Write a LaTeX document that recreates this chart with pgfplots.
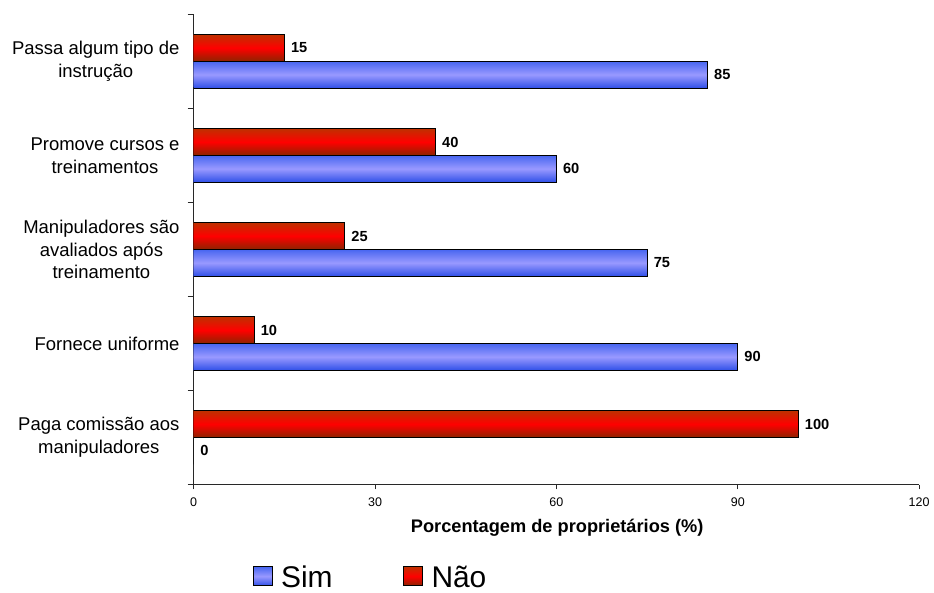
\documentclass[border=0pt]{standalone}
\usepackage{fontspec}
\setmainfont{Liberation Sans}
\usepackage{pgfplots}
\pgfplotsset{compat=1.18}

% bar shading colours
\definecolor{bluetop}{RGB}{72,102,240}
\definecolor{bluemid}{RGB}{153,153,255}
\definecolor{bluebot}{RGB}{48,80,232}
\definecolor{redtop}{RGB}{192,48,0}
\definecolor{redmid}{RGB}{255,0,0}
\definecolor{redbot}{RGB}{140,36,0}
\definecolor{axisgray}{RGB}{40,40,40}

% square legend swatch and the two bar styles (each bar is its own plot,
% so that the shading runs across every single bar)
\pgfplotsset{
  boxlegend/.style={legend image code/.code={%
    \draw[##1, line width=0.6pt] (0pt,-6pt) rectangle (14.25pt,8.25pt);}},
  simbar/.style={draw=black, line width=0.6pt, bar shift=-0.142,
    top color=bluetop, bottom color=bluebot, middle color=bluemid, boxlegend},
  naobar/.style={draw=black, line width=0.6pt, bar shift=0.142,
    top color=redtop, bottom color=redbot, middle color=redmid, boxlegend},
}

\begin{document}
\begin{tikzpicture}
\begin{axis}[
  name=ax,
  scale only axis,
  width=545.6pt, height=353.8pt,
  xbar, bar width=0.284,
  xmin=0, xmax=120, ymin=-0.5, ymax=4.5,
  axis lines=left,
  axis line style={-, axisgray, line width=0.8pt},
  tick align=outside,
  major tick length=3.5pt,
  xtick={0,30,60,90,120},
  x tick label style={font=\fontsize{9.4}{11}\selectfont, yshift=-2.5pt},
  x tick style={axisgray, line width=0.8pt},
  ytick={0,1,2,3,4},
  yticklabels={{Paga comissão aos\\manipuladores},
               {Fornece uniforme},
               {Manipuladores são\\avaliados após\\treinamento},
               {Promove cursos e\\treinamentos},
               {Passa algum tipo de\\instrução}},
  y tick label style={align=center, font=\fontsize{13.9}{17.25}\selectfont,
                      inner sep=0pt, xshift=-7pt},
  y tick style={draw=none},
  % short marks between the categories
  extra y ticks={-0.5,0.5,1.5,2.5,3.5,4.5},
  extra y tick labels={},
  extra y tick style={y tick style={draw=axisgray, line width=0.8pt}, major tick length=4.5pt},
  /pgf/number format/assume math mode=true,
  xlabel={\bfseries Porcentagem de proprietários (\%)},
  xlabel style={font=\fontsize{13.7}{16}\selectfont,
                at={(axis description cs:0.501,-0.092)}, anchor=center},
  nodes near coords,
  nodes near coords style={font=\fontsize{11}{13}\bfseries\selectfont,
                           anchor=west, inner sep=2.5pt, xshift=2.2pt},
  legend columns=2,
  legend style={at={(axis description cs:0.081,-0.198)}, anchor=west,
                draw=none, fill=none, inner sep=0pt,
                font=\fontsize{22.5}{26}\selectfont,
                nodes={inner sep=1pt},
                /tikz/every even column/.append style={column sep=52pt},
                /tikz/every odd column/.append style={column sep=5.5pt}},
]
% Sim
\addplot[simbar] coordinates {(85,4)};
\addlegendentry{Sim}
% Nao
\addplot[naobar] coordinates {(15,4)};
\addlegendentry{Não}
\addplot[simbar, forget plot] coordinates {(60,3)};
\addplot[naobar, forget plot] coordinates {(40,3)};
\addplot[simbar, forget plot] coordinates {(75,2)};
\addplot[naobar, forget plot] coordinates {(25,2)};
\addplot[simbar, forget plot] coordinates {(90,1)};
\addplot[naobar, forget plot] coordinates {(10,1)};
\addplot[simbar, forget plot] coordinates {(0,0)};
\addplot[naobar, forget plot] coordinates {(100,0)};
\end{axis}
\path ([xshift=-145.7pt,yshift=-81pt]ax.south west) rectangle ([xshift=554.8pt,yshift=364.5pt]ax.south west);
\end{tikzpicture}
\end{document}
